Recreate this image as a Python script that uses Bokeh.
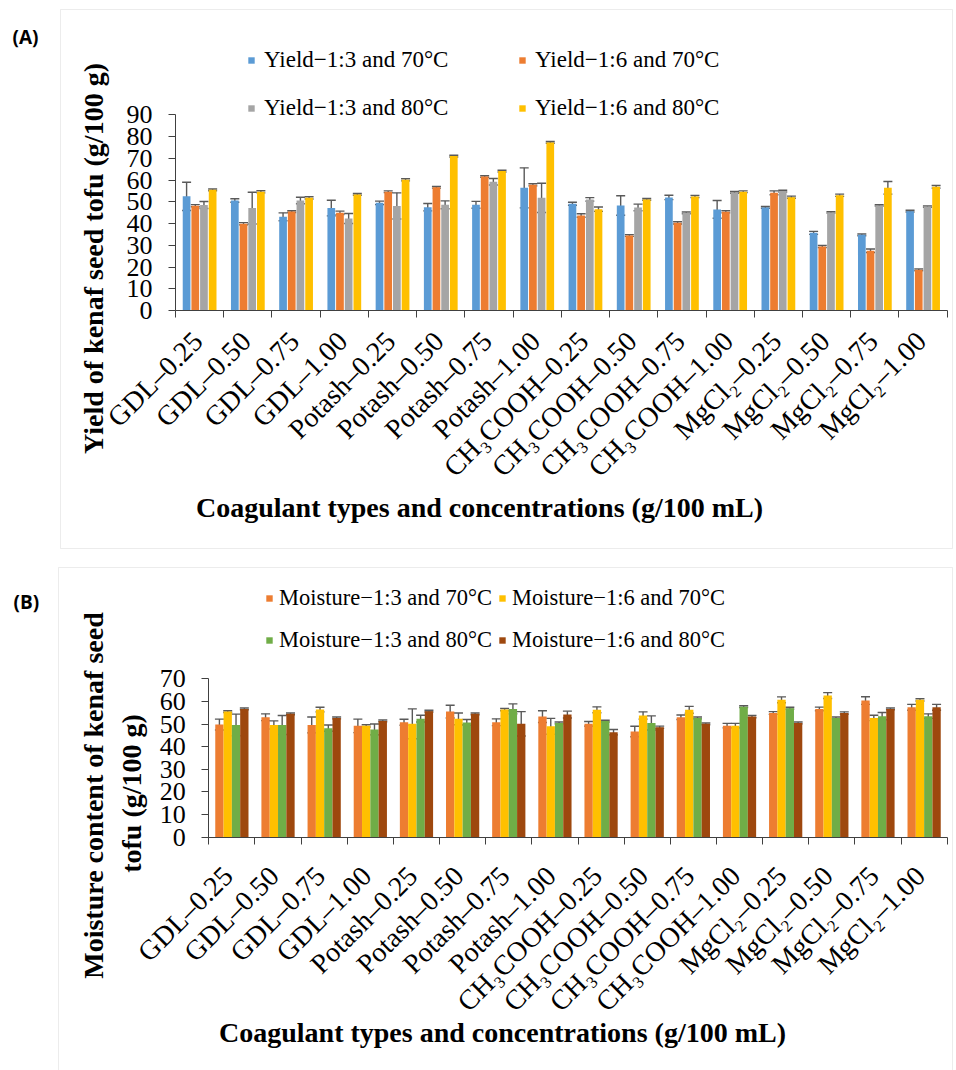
import math

from bokeh.core.properties import value
from bokeh.embed import file_html
from bokeh.layouts import column
from bokeh.models import (BoxAnnotation, ColumnDataSource, FixedTicker, Label,
                          Legend, LegendItem, LinearAxis, Range1d, TeeHead,
                          Whisker)
from bokeh.plotting import figure
from bokeh.resources import INLINE

# ---------------------------------------------------------------- data
categories = [
    "GDL–0.25", "GDL–0.50", "GDL–0.75", "GDL–1.00",
    "Potash–0.25", "Potash–0.50", "Potash–0.75", "Potash–1.00",
    "CH₃COOH–0.25", "CH₃COOH–0.50", "CH₃COOH–0.75", "CH₃COOH–1.00",
    "MgCl₂–0.25", "MgCl₂–0.50", "MgCl₂–0.75", "MgCl₂–1.00",
]

# (A) yield of kenaf seed tofu, g/100 g
yield_names = ["Yield−1:3 and 70°C", "Yield−1:6 and 70°C",
               "Yield−1:3 and 80°C", "Yield−1:6 and 80°C"]
yield_colors = ["#5B9BD5", "#ED7D31", "#A5A5A5", "#FFC000"]
yield_13_70 = [52.5, 50.6, 43.1, 47.1, 49.5, 47.5, 48.6, 56.4,
               49.1, 48.3, 52.0, 46.5, 47.4, 35.7, 34.8, 45.7]
yield_13_70_sd = [6.5, 0.8, 1.8, 3.6, 0.8, 1.7, 1.6, 9.2,
                  0.7, 4.5, 1.0, 4.1, 0.4, 0.7, 0.4, 0.4]
yield_16_70 = [48.2, 39.9, 45.5, 44.9, 54.6, 56.7, 61.6, 57.8,
               43.7, 34.5, 40.3, 45.4, 54.1, 29.4, 27.5, 18.7]
yield_16_70_sd = [0.5, 0.5, 0.4, 0.8, 0.4, 0.4, 0.4, 0.5,
                  0.8, 0.4, 0.5, 0.5, 0.9, 0.5, 0.8, 0.4]
yield_13_80 = [48.5, 47.1, 50.6, 42.3, 48.1, 48.6, 59.2, 51.8,
               51.1, 47.4, 44.9, 54.3, 54.9, 45.1, 48.3, 47.8]
yield_13_80_sd = [1.6, 7.3, 1.5, 2.3, 6.0, 1.8, 1.5, 6.7,
                  0.8, 1.5, 0.4, 0.4, 0.4, 0.3, 0.3, 0.3]
yield_16_80 = [55.5, 54.6, 51.8, 53.4, 60.1, 71.0, 64.1, 77.3,
               46.6, 51.1, 52.4, 54.6, 52.1, 53.0, 56.4, 56.9]
yield_16_80_sd = [0.4, 0.5, 0.5, 0.4, 0.5, 0.4, 0.4, 0.4,
                  1.0, 0.4, 0.5, 0.4, 0.5, 0.5, 2.9, 0.6]

# (B) moisture content of kenaf seed tofu, g/100 g
moist_names = ["Moisture−1:3 and 70°C", "Moisture−1:6 and 70°C",
               "Moisture−1:3 and 80°C", "Moisture−1:6 and 80°C"]
moist_colors = ["#ED7D31", "#FFC000", "#70AD47", "#9E480E"]
moist_13_70 = [49.8, 53.0, 49.6, 49.2, 50.8, 55.5, 50.8, 53.3,
               50.1, 46.7, 53.0, 49.3, 54.9, 56.7, 60.4, 57.4]
moist_13_70_sd = [2.4, 1.5, 3.5, 3.0, 1.3, 2.8, 1.5, 2.6,
                  1.0, 2.3, 1.0, 1.0, 0.6, 0.8, 1.7, 1.3]
moist_16_70 = [55.5, 49.6, 56.4, 49.2, 50.1, 52.3, 56.4, 49.0,
               56.3, 53.8, 56.3, 49.3, 60.7, 62.6, 52.7, 60.7]
moist_16_70_sd = [0.4, 1.8, 1.0, 0.5, 6.6, 2.6, 0.5, 3.5,
                  1.3, 1.6, 1.5, 1.0, 1.3, 1.3, 1.2, 0.5]
moist_13_80 = [49.6, 49.6, 48.2, 47.6, 52.4, 50.7, 56.7, 50.5,
               51.3, 50.5, 52.7, 57.7, 57.0, 52.7, 53.5, 53.5]
moist_13_80_sd = [4.8, 4.2, 1.4, 2.4, 1.5, 1.3, 2.2, 0.4,
                  0.4, 3.1, 0.4, 0.4, 0.4, 0.4, 1.6, 1.0]
moist_16_80 = [56.7, 54.5, 52.7, 51.4, 55.7, 54.5, 50.1, 54.2,
               46.4, 48.6, 50.1, 53.3, 50.5, 54.9, 56.7, 57.4]
moist_16_80_sd = [0.4, 0.4, 0.4, 0.4, 0.4, 0.4, 5.4, 1.5,
                  1.2, 0.5, 0.4, 0.5, 0.4, 0.5, 0.4, 1.3]

yield_ticks = list(range(0, 91, 10))
moist_ticks = list(range(0, 71, 10))

# ---------------------------------------------------------------- styling
SERIF = "Liberation Serif"
AXIS_COLOR = "#404040"
ERR_COLOR = "#595959"
PANEL_EDGE = "#BFBFBF"


def build_panel(series, errors, names, colors, ticks, geom, y_title_lines,
                x_title, tag, legend_cols):
    """One bar panel.  The plotting frame spans the whole canvas so that the
    legends, titles and panel box can sit anywhere; the axes are pinned to
    the data origin with fixed_location."""
    W, H, top = geom["W"], geom["H"], geom["top"]
    px0, px1 = geom["x_px"]           # canvas x of first / last category edge
    py0, py1 = geom["y_px"]           # page y of the lowest / highest tick
    ncat = len(categories)
    ymin, ymax = ticks[0], ticks[-1]

    kx = (px1 - px0) / ncat
    ky = ((py0 - top) - (py1 - top)) / (ymax - ymin)
    x_range = Range1d(-px0 / kx, ncat + (W - px1) / kx)
    y_range = Range1d(ymin - (H - (py0 - top)) / ky, ymax + (py1 - top) / ky)

    def sx(X):
        return X

    def sy(Y):
        return H - (Y - top)

    p = figure(width=W, height=H, output_backend="svg", toolbar_location=None,
               title=None, x_range=x_range, y_range=y_range, min_border=0,
               x_axis_location=None, y_axis_location=None)
    p.background_fill_color = "white"
    p.border_fill_color = "white"
    p.outline_line_color = None
    p.xgrid.visible = False
    p.ygrid.visible = False

    n = len(series)
    stride = geom["stride"]
    renderers = []
    for j, (vals, sd) in enumerate(zip(series, errors)):
        xs = [i + 0.5 + (j - (n - 1) / 2) * stride for i in range(ncat)]
        src = ColumnDataSource(dict(
            x=xs, top=vals,
            upper=[v + e for v, e in zip(vals, sd)],
            lower=[v - e for v, e in zip(vals, sd)],
        ))
        r = p.vbar(x="x", top="top", bottom=0, width=geom["bar_w"], source=src,
                   fill_color=colors[j], line_color=None)
        renderers.append(r)
        p.add_layout(Whisker(
            base="x", upper="upper", lower="lower", source=src,
            line_color=ERR_COLOR, line_width=1.4,
            upper_head=TeeHead(size=9, line_color=ERR_COLOR, line_width=1.4),
            lower_head=TeeHead(size=9, line_color=ERR_COLOR, line_width=1.4),
        ))

    # x axis: ticks between the groups, names written below at an angle
    bounds = list(range(ncat + 1))
    xa = LinearAxis(fixed_location=ymin, bounds=(0, ncat))
    xa.ticker = FixedTicker(ticks=bounds, minor_ticks=[])
    xa.major_label_overrides = {b: "" for b in bounds}
    xa.major_tick_out = 7
    xa.major_tick_in = 0
    xa.minor_tick_out = 0
    xa.minor_tick_in = 0
    xa.major_tick_line_color = AXIS_COLOR
    xa.axis_line_color = AXIS_COLOR
    p.add_layout(xa, "below")

    ya = LinearAxis(fixed_location=0, bounds=(ymin, ymax))
    ya.ticker = FixedTicker(ticks=ticks, minor_ticks=[])
    ya.major_tick_out = 7
    ya.major_tick_in = 0
    ya.minor_tick_out = 0
    ya.minor_tick_in = 0
    ya.major_tick_line_color = AXIS_COLOR
    ya.axis_line_color = AXIS_COLOR
    ya.major_label_text_font = SERIF
    ya.major_label_text_font_size = "26px"
    ya.major_label_text_color = "black"
    ya.major_label_standoff = 16
    p.add_layout(ya, "left")

    cat_src = ColumnDataSource(dict(x=[i + 0.5 for i in range(ncat)],
                                    y=[ymin] * ncat, name=categories))
    p.text(x="x", y="y", text="name", source=cat_src, angle=math.pi / 4,
           text_align="right", text_baseline="middle",
           x_offset=geom["lab_dx"], y_offset=geom["lab_dy"],
           text_font=value(SERIF), text_font_size=value("28px"),
           text_color="black")

    # legends: one per column
    for gx, idx in legend_cols:
        items = [LegendItem(label=names[k], renderers=[renderers[k]]) for k in idx]
        lg = Legend(items=items,
                    location=(sx(gx), sy(geom["legend_row2"] + 13)),
                    orientation="vertical", glyph_width=8, glyph_height=8,
                    label_standoff=geom["legend_standoff"], label_height=26,
                    spacing=geom["legend_pitch"] - 26,
                    padding=0, margin=0, border_line_alpha=0,
                    background_fill_alpha=0, label_text_font=SERIF,
                    label_text_font_size=geom["legend_font"],
                    label_text_color="black")
        p.add_layout(lg, "center")

    # axis titles
    for (tx, ty), line in y_title_lines:
        p.add_layout(Label(x=sx(tx), y=sy(ty), x_units="screen", y_units="screen",
                           text=line, angle=math.pi / 2, text_align="center",
                           text_baseline="middle", text_font=SERIF,
                           text_font_style="bold", text_font_size="28px",
                           text_color="black"))
    (tx, ty), line = x_title
    p.add_layout(Label(x=sx(tx), y=sy(ty), x_units="screen", y_units="screen",
                       text=line, text_align="center", text_baseline="middle",
                       text_font=SERIF, text_font_style="bold",
                       text_font_size="28px", text_color="black"))

    # panel tag and frame around the panel
    (gx, gy), tag_text = tag
    p.add_layout(Label(x=sx(gx), y=sy(gy), x_units="screen", y_units="screen",
                       text=tag_text, text_align="left", text_baseline="middle",
                       text_font="Open Sans", text_font_style="bold",
                       text_font_size="19px", text_color="black"))
    l, r, t, b = geom["box"]
    p.add_layout(BoxAnnotation(left=sx(l), right=sx(r), top=sy(t), bottom=sy(b),
                               left_units="screen", right_units="screen",
                               top_units="screen", bottom_units="screen",
                               fill_alpha=0, line_color=PANEL_EDGE, line_width=1))
    return p


geom_a = dict(W=956, H=557, top=0, x_px=(175, 946.7), y_px=(310, 114.3),
              stride=0.18, bar_w=0.16, lab_dx=-2, lab_dy=26,
              legend_row2=108, legend_pitch=48, legend_standoff=9,
              legend_font="23px", box=(60, 952, 9, 548))
geom_b = dict(W=956, H=513, top=557, x_px=(208.3, 946.7), y_px=(836.7, 678.3),
              stride=0.18, bar_w=0.18, lab_dx=-4, lab_dy=34,
              legend_row2=640, legend_pitch=42, legend_standoff=6,
              legend_font="22.5px", box=(58, 952, 567, 1080))

panel_a = build_panel(
    [yield_13_70, yield_16_70, yield_13_80, yield_16_80],
    [yield_13_70_sd, yield_16_70_sd, yield_13_80_sd, yield_16_80_sd],
    yield_names, yield_colors, yield_ticks, geom_a,
    [((93, 258), "Yield of kenaf seed tofu (g/100 g)")],
    ((479, 507), "Coagulant types and concentrations (g/100 mL)"),
    ((12, 36), "(A)"),
    [(247, [0, 2]), (518, [1, 3])],
)

panel_b = build_panel(
    [moist_13_70, moist_16_70, moist_13_80, moist_16_80],
    [moist_13_70_sd, moist_16_70_sd, moist_13_80_sd, moist_16_80_sd],
    moist_names, moist_colors, moist_ticks, geom_b,
    [((93, 795), "Moisture content of kenaf seed"),
     ((131, 793), "tofu (g/100 g)")],
    ((502, 1032), "Coagulant types and concentrations (g/100 mL)"),
    ((13, 601), "(B)"),
    [(265, [0, 2]), (498, [1, 3])],
)

page = column(panel_a, panel_b, spacing=0)
with open("out.html", "w") as fh:
    fh.write(file_html(page, INLINE, title="Kenaf seed tofu"))
